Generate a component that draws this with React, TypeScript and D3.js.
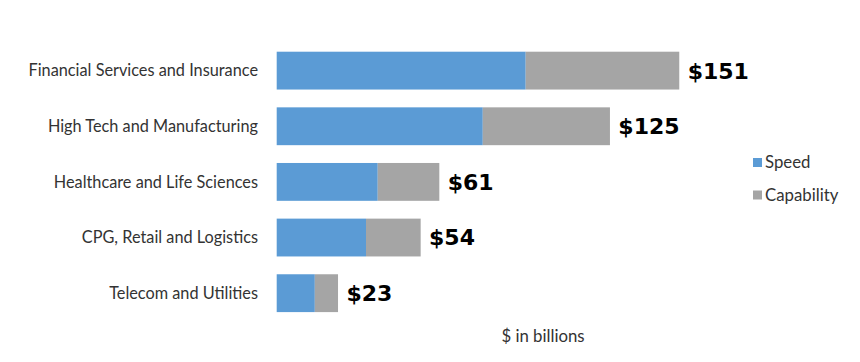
import React from "react";
import * as d3 from "d3";

const categories = [
  "Financial Services and Insurance",
  "High Tech and Manufacturing",
  "Healthcare and Life Sciences",
  "CPG, Retail and Logistics",
  "Telecom and Utilities",
];
const speed = [93.4, 77.3, 37.9, 33.5, 14.3];
const capability = [57.6, 47.7, 23.1, 20.5, 8.7];
const totalLabels = ["$151", "$125", "$61", "$54", "$23"];
const seriesNames = ["Speed", "Capability"];
const colors = ["#5B9BD5", "#A5A5A5"];

const W = 860;
const H = 362;

export default function App() {
  const x = d3.scaleLinear().domain([0, 160]).range([276.7, 276.7 + 160 * 2.666]);
  const y = d3
    .scaleBand<string>()
    .domain(categories)
    .range([42.8, 321])
    .paddingInner(0.32)
    .paddingOuter(0.16);

  const rows = categories.map((c, i) => ({ c, s: speed[i], k: capability[i], label: totalLabels[i] }));
  const stack = d3.stack<any>().keys(["s", "k"])(rows);
  const bw = y.bandwidth();
  const labelFont = "Lato, sans-serif";

  return (
    <svg width={W} height={H} style={{ position: "absolute", left: 0, top: 0, background: "#fff" }}>
      <rect width={W} height={H} fill="#fff" />
      {stack.map((layer, li) => (
        <g key={li} fill={colors[li]}>
          {layer.map((d, i) => (
            <rect
              key={i}
              x={x(d[0])}
              y={y(categories[i])!}
              width={x(d[1]) - x(d[0])}
              height={bw}
            />
          ))}
        </g>
      ))}
      {rows.map((r, i) => (
        <text
          key={"c" + i}
          x={258}
          y={y(r.c)! + bw / 2}
          dy="0.35em"
          textAnchor="end"
          fontFamily={labelFont}
          fontSize={16.3}
          fill="#333"
        >
          {r.c}
        </text>
      ))}
      {rows.map((r, i) => (
        <text
          key={"t" + i}
          x={x(r.s + r.k) + 8.4}
          y={y(r.c)! + bw / 2}
          dy="0.36em"
          fontFamily="'DejaVu Sans', sans-serif"
          fontWeight="bold"
          fontSize={22}
          fill="#000"
        >
          {r.label}
        </text>
      ))}
      {seriesNames.map((n, i) => (
        <g key={"l" + i} transform={`translate(753, ${158 + i * 32.5})`}>
          <rect width={9} height={9} fill={colors[i]} />
          <text x={12} y={4.5} dy="0.35em" fontFamily={labelFont} fontSize={16.8} fill="#333">
            {n}
          </text>
        </g>
      ))}
      <text x={543} y={341.7} textAnchor="middle" fontFamily={labelFont} fontSize={16.8} fill="#333">
        $ in billions
      </text>
    </svg>
  );
}
